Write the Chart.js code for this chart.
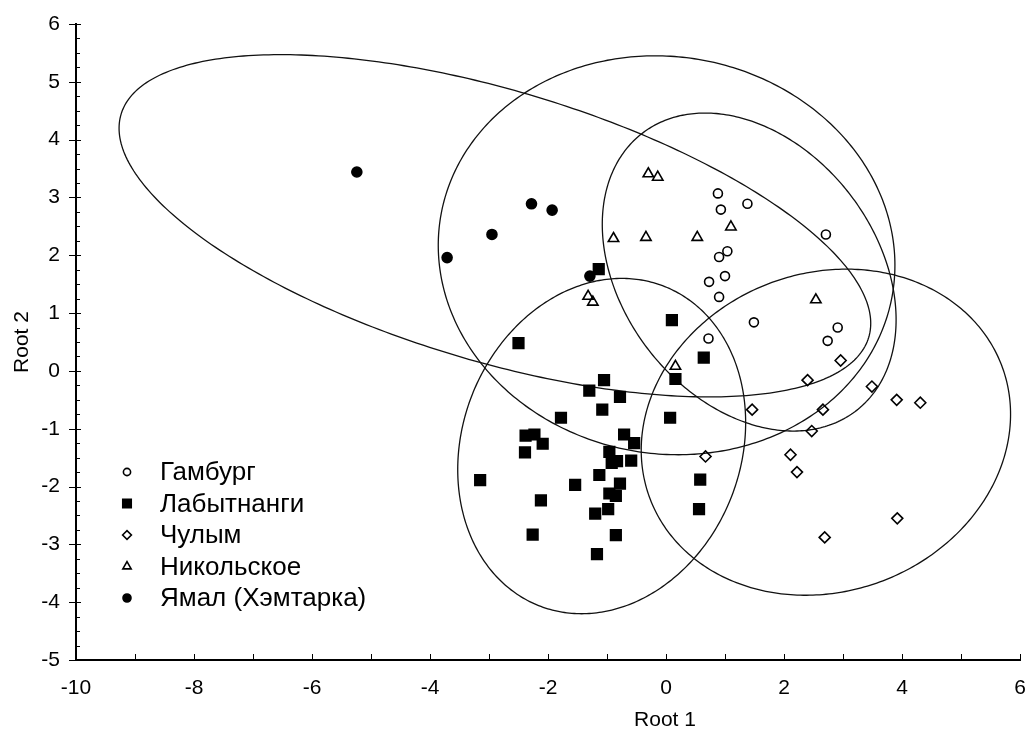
<!DOCTYPE html>
<html>
<head>
<meta charset="utf-8">
<script src="https://cdn.jsdelivr.net/npm/chart.js@4.4.0/dist/chart.umd.min.js"></script>
<style>
  html, body { margin: 0; padding: 0; background: #fff; }
</style>
</head>
<body>
<canvas id="chart" width="1030" height="733"></canvas>
<script>
// group names (legend order)
const groupNames = ['Гамбург', 'Лабытнанги', 'Чулым', 'Никольское', 'Ямал (Хэмтарка)'];

// canonical scores, Root 1 / Root 2
const gamburgX = [0.88, 1.38, 0.93, 1.04, 0.90, 1.00, 0.73, 0.90, 1.49, 0.72, 2.91, 2.74, 2.71];
const gamburgY = [3.07, 2.89, 2.79, 2.07, 1.97, 1.64, 1.54, 1.28, 0.84, 0.56, 0.75, 0.52, 2.36];

const labytX = [-1.14, -2.50, 0.10, 0.16, -1.05, -1.30, -0.78, -1.08, -1.78, 0.07, -0.71, -0.54,
                -2.38, -2.23, -2.09, -2.39, -0.96, -0.83, -0.92, -0.59, -3.15, -1.54, -1.13, -0.78,
                -0.96, -0.85, -2.12, -0.98, -1.20, -2.26, -0.85, -1.17, 0.64, 0.58, 0.56];
const labytY = [1.76, 0.48, 0.88, -0.14, -0.16, -0.34, -0.45, -0.67, -0.81, -0.81, -1.10, -1.25,
                -1.12, -1.10, -1.26, -1.41, -1.40, -1.56, -1.59, -1.55, -1.89, -1.97, -1.80, -1.95,
                -2.12, -2.16, -2.24, -2.39, -2.47, -2.83, -2.84, -3.17, 0.23, -1.88, -2.39];

const chulymX = [2.96, 2.40, 3.49, 3.91, 4.31, 1.46, 2.66, 2.47, 0.67, 2.11, 2.22, 3.92, 2.69];
const chulymY = [0.18, -0.16, -0.27, -0.50, -0.55, -0.67, -0.67, -1.04, -1.48, -1.45, -1.75, -2.55, -2.88];

const nikolX = [-0.30, -0.14, -0.89, -0.34, 0.53, 1.10, -1.32, -1.24, 0.16, 2.54];
const nikolY = [3.41, 3.35, 2.29, 2.31, 2.31, 2.49, 1.29, 1.19, 0.08, 1.23];

const yamalX = [-5.24, -2.28, -1.93, -2.95, -3.71, -1.29];
const yamalY = [3.44, 2.89, 2.78, 2.36, 1.96, 1.64];

// 95% ellipses per group: centre, half-extent on each root, correlation
const ellCx = [1.41, -1.09, 2.71, 0.01, -2.90];
const ellCy = [1.71, -1.30, -1.06, 2.00, 2.51];
const ellSx = [2.49, 2.44, 3.13, 3.87, 6.37];
const ellSy = [2.75, 2.90, 2.82, 3.45, 2.96];
const ellR  = [-0.30, 0.14, 0.11, -0.05, -0.57];

// axes
const xMin = -10, xMax = 6, xLabelStep = 2, xTickStep = 1;
const yMin = -5, yMax = 6, yLabelStep = 1, yMinorStep = 0.25;
const xTitle = 'Root 1';
const yTitle = 'Root 2';

function pts(xs, ys) {
    return xs.map((v, i) => ({x: v, y: ys[i]}));
}

const markers = [
    {style: 'circle', radius: 4.5, fill: 'rgba(0,0,0,0)'},
    {style: 'rect', radius: 7.5, fill: '#000'},
    {style: 'rectRot', radius: 5.5, fill: 'rgba(0,0,0,0)'},
    {style: 'triangle', radius: 6, fill: 'rgba(0,0,0,0)'},
    {style: 'circle', radius: 5, fill: '#000'}
];
const series = [
    pts(gamburgX, gamburgY),
    pts(labytX, labytY),
    pts(chulymX, chulymY),
    pts(nikolX, nikolY),
    pts(yamalX, yamalY)
];

const datasets = series.map((d, i) => ({
    label: groupNames[i],
    data: d,
    pointStyle: markers[i].style,
    pointRadius: markers[i].radius,
    pointHoverRadius: markers[i].radius,
    backgroundColor: markers[i].fill,
    borderColor: '#000',
    borderWidth: 1.6
}));

const fontFam = "'Liberation Sans', Arial, sans-serif";

// ellipses drawn through the scales
const ellipsePlugin = {
    id: 'ellipses',
    beforeDatasetsDraw(chart) {
        const {ctx, chartArea: a, scales: {x, y}} = chart;
        ctx.save();
        ctx.beginPath();
        ctx.rect(a.left, a.top, a.right - a.left, a.bottom - a.top);
        ctx.clip();
        ctx.strokeStyle = '#111';
        ctx.lineWidth = 1.3;
        for (let g = 0; g < ellCx.length; g++) {
            const k = Math.sqrt(1 - ellR[g] * ellR[g]);
            ctx.beginPath();
            for (let s = 0; s <= 360; s++) {
                const t = s * Math.PI / 180;
                const vx = ellCx[g] + ellSx[g] * Math.cos(t);
                const vy = ellCy[g] + ellSy[g] * (ellR[g] * Math.cos(t) + k * Math.sin(t));
                const px = x.getPixelForValue(vx), py = y.getPixelForValue(vy);
                if (s === 0) ctx.moveTo(px, py); else ctx.lineTo(px, py);
            }
            ctx.closePath();
            ctx.stroke();
        }
        ctx.restore();
    }
};

// inward tick marks + minor ticks, x title, legend
const decorPlugin = {
    id: 'decor',
    afterDraw(chart) {
        const {ctx, chartArea: a, scales: {x, y}} = chart;
        ctx.save();
        ctx.strokeStyle = '#000';
        ctx.lineWidth = 1;
        ctx.beginPath();
        for (let v = xMin; v <= xMax; v += xTickStep) {
            const px = Math.round(x.getPixelForValue(v)) + 0.5;
            ctx.moveTo(px, a.bottom);
            ctx.lineTo(px, a.bottom - 6);
        }
        const nMinor = Math.round((yMax - yMin) / yMinorStep);
        for (let i = 0; i <= nMinor; i++) {
            const v = yMin + i * yMinorStep;
            const py = Math.round(y.getPixelForValue(v)) + 0.5;
            if (Math.abs(v - Math.round(v)) < 1e-6) {
                ctx.moveTo(a.left - 7, py);
                ctx.lineTo(a.left + 5, py);
            } else {
                ctx.moveTo(a.left, py);
                ctx.lineTo(a.left + 4, py);
            }
        }
        ctx.stroke();

        // x axis title
        ctx.fillStyle = '#000';
        ctx.font = '21px ' + fontFam;
        ctx.textAlign = 'center';
        ctx.textBaseline = 'middle';
        ctx.fillText(xTitle, 665, 720);

        // legend inside the plot
        ctx.font = '26px ' + fontFam;
        ctx.textAlign = 'left';
        chart.data.datasets.forEach((ds, i) => {
            const ly = 472 + i * 31.5;
            ctx.fillStyle = ds.backgroundColor;
            ctx.strokeStyle = '#000';
            ctx.lineWidth = 1.6;
            Chart.helpers.drawPoint(ctx, {
                pointStyle: ds.pointStyle,
                radius: ds.pointRadius * 0.8,
                borderWidth: 1.6,
                rotation: 0
            }, 127, ly);
            ctx.fillStyle = '#000';
            ctx.fillText(ds.label, 160, ly + 1);
        });
        ctx.restore();
    }
};

new Chart(document.getElementById('chart'), {
    type: 'scatter',
    data: {datasets: datasets},
    plugins: [ellipsePlugin, decorPlugin],
    options: {
        responsive: false,
        animation: false,
        devicePixelRatio: 1,
        layout: {padding: {left: 0, right: 10, top: 24, bottom: 0}},
        plugins: {
            legend: {display: false},
            tooltip: {enabled: false}
        },
        scales: {
            x: {
                type: 'linear',
                min: xMin,
                max: xMax,
                grid: {display: false, drawTicks: false, tickLength: 0},
                border: {display: true, color: '#000', width: 2},
                ticks: {
                    stepSize: xLabelStep,
                    color: '#000',
                    padding: 16,
                    font: {family: fontFam, size: 21}
                },
                afterFit: s => { s.height = 73; s.paddingLeft = 0; s.paddingRight = 0; }
            },
            y: {
                type: 'linear',
                min: yMin,
                max: yMax,
                grid: {display: false, drawTicks: false, tickLength: 0},
                border: {display: true, color: '#000', width: 2},
                ticks: {
                    stepSize: yLabelStep,
                    color: '#000',
                    padding: 16,
                    font: {family: fontFam, size: 21}
                },
                title: {
                    display: true,
                    text: yTitle,
                    color: '#000',
                    padding: {top: 10, bottom: 0},
                    font: {family: fontFam, size: 21}
                },
                afterFit: s => { s.width = 76; s.paddingTop = 0; s.paddingBottom = 0; }
            }
        }
    }
});
</script>
</body>
</html>
